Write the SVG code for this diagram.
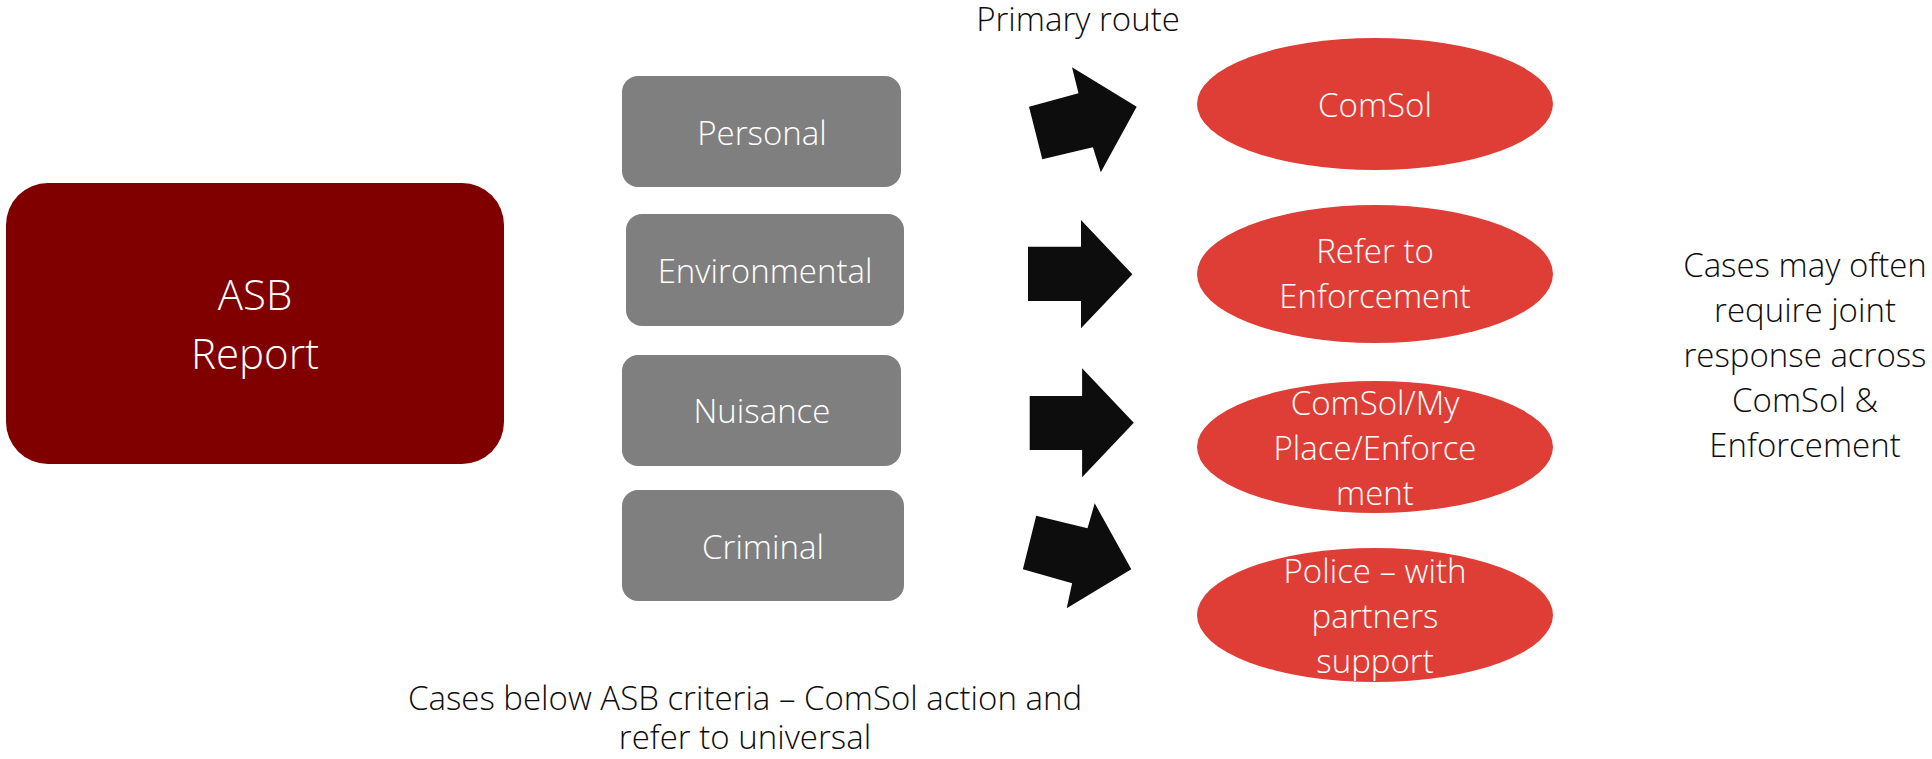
<svg xmlns="http://www.w3.org/2000/svg" width="1932" height="759" viewBox="0 0 1932 759">
<style>
.t{font-family:"Open Sans","Liberation Sans",sans-serif;font-weight:300;text-anchor:middle}
.w{fill:#ffffff}
.k{fill:#0d0d0d}
.box{fill:#7f7f7f}
.ell{fill:#df3e37}
.arr{fill:#0d0d0d}
</style>
<rect width="1932" height="759" fill="#ffffff"/>
<g id="asb-report">
<rect x="6" y="183" width="498" height="281" rx="42" fill="#800000"/>
<text class="t w" x="255" y="310" font-size="42">ASB</text>
<text class="t w" x="255" y="369" font-size="42">Report</text>
</g>
<g id="personal">
<rect class="box" x="622" y="76" width="279" height="111" rx="16"/>
<text class="t w" x="762" y="145" font-size="33">Personal</text>
</g>
<g id="environmental">
<rect class="box" x="626" y="214" width="278" height="112" rx="16"/>
<text class="t w" x="765" y="283" font-size="33">Environmental</text>
</g>
<g id="nuisance">
<rect class="box" x="622" y="355" width="279" height="111" rx="16"/>
<text class="t w" x="762" y="423" font-size="33">Nuisance</text>
</g>
<g id="criminal">
<rect class="box" x="622" y="490" width="282" height="111" rx="16"/>
<text class="t w" x="763" y="559" font-size="33">Criminal</text>
</g>
<g id="connectors">
<polygon class="arr" points="1029,106.7 1078.5,93.3 1072,67.3 1136.7,106.7 1100.8,172.3 1092.9,147.3 1042.3,159.3"/>
<polygon class="arr" points="1028,246.7 1081,246.7 1081,220 1132.4,274.3 1081,328.3 1081,301 1028,301"/>
<polygon class="arr" points="1029.7,396 1082.1,396 1082.1,368.3 1133.8,422.7 1082.1,477.3 1082.1,450 1029.7,450"/>
<polygon class="arr" points="1036.2,515.7 1087.5,528.3 1094.7,503.3 1131.3,569.3 1066.7,608.3 1072.1,583.3 1022.9,569.3"/>
</g>
<g id="comsol">
<ellipse class="ell" cx="1375" cy="104" rx="178" ry="66"/>
<text class="t w" x="1375" y="117" font-size="33">ComSol</text>
</g>
<g id="refer-enforcement">
<ellipse class="ell" cx="1375" cy="274" rx="178" ry="69"/>
<text class="t w" x="1375" y="263" font-size="33">Refer to</text>
<text class="t w" x="1375" y="308" font-size="33">Enforcement</text>
</g>
<g id="comsol-myplace">
<ellipse class="ell" cx="1375" cy="447" rx="178" ry="66"/>
<text class="t w" x="1375" y="415" font-size="33">ComSol/My</text>
<text class="t w" x="1375" y="460" font-size="33">Place/Enforce</text>
<text class="t w" x="1375" y="505" font-size="33">ment</text>
</g>
<g id="police">
<ellipse class="ell" cx="1375" cy="615" rx="178" ry="67"/>
<text class="t w" x="1375" y="583" font-size="33">Police – with</text>
<text class="t w" x="1375" y="628" font-size="33">partners</text>
<text class="t w" x="1375" y="673" font-size="33">support</text>
</g>
<g id="primary-route">
<text class="t k" x="1078" y="31" font-size="33">Primary route</text>
</g>
<g id="joint-response">
<text class="t k" x="1805" y="277" font-size="33">Cases may often</text>
<text class="t k" x="1805" y="322" font-size="33">require joint</text>
<text class="t k" x="1805" y="367" font-size="33">response across</text>
<text class="t k" x="1805" y="412" font-size="33">ComSol &amp;</text>
<text class="t k" x="1805" y="457" font-size="33">Enforcement</text>
</g>
<g id="below-criteria">
<text class="t k" x="745" y="710" font-size="33">Cases below ASB criteria – ComSol action and</text>
<text class="t k" x="745" y="749" font-size="33">refer to universal</text>
</g>
</svg>
